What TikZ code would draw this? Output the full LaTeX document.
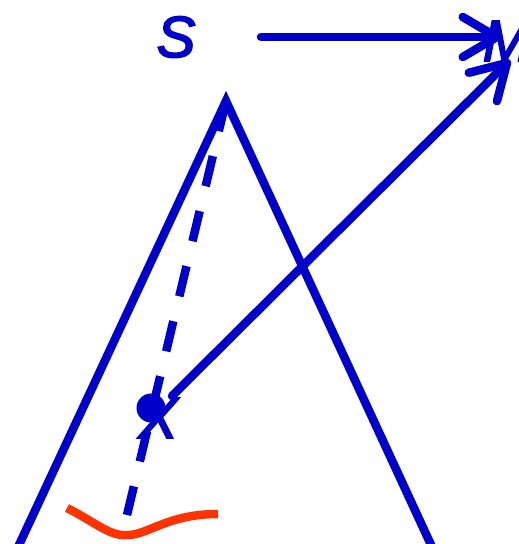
\documentclass[tikz,border=0pt]{standalone}
\usepackage{fontspec}
\newfontface\labface{Liberation Sans Italic}[FakeBold=3]
\usetikzlibrary{arrows.meta}
\definecolor{dblue}{RGB}{0,0,204}
\definecolor{ored}{RGB}{255,51,0}
\begin{document}
\begin{tikzpicture}[x=1pt,y=-1pt,
  bluestroke/.style={draw=dblue,line width=8.5pt},
  arr/.style={bluestroke,line cap=round,-{Straight Barb[length=34pt,width=40pt,round]}},
  lab/.style={text=dblue,font=\labface\fontsize{58}{60}\selectfont,inner sep=0pt,anchor=base}]
\useasboundingbox (0,0) rectangle (519,544);
\clip (0,0) rectangle (519,544);
% labels
\node[lab] (S) at (176,57) {S};
\node[lab] (M) at (507,61) {M};
\node[lab] (X) at (158,438) {X};
% cone
\coordinate (apex) at (226,101);
\coordinate (leftfoot) at (12,560);
\coordinate (rightfoot) at (438,560);
\draw[bluestroke,line join=miter] (leftfoot) -- (apex) -- (rightfoot);
% dashed axis
\coordinate (dend) at (127,515);
\draw[bluestroke,dash pattern=on 31pt off 25.6pt] (apex) -- (dend);
% point
\node[circle,fill=dblue,minimum size=29pt,inner sep=0pt] (dot) at (151,408) {};
% arrows
\coordinate (h0) at (261,37);
\coordinate (h1) at (501,37);
\draw[arr] (h0) -- (h1);
\coordinate (d0) at (172,396);
\coordinate (d1) at (510,60);
\draw[arr] (d0) -- (d1);
% red curve
\coordinate (r0) at (67,508);
\coordinate (r1) at (130,535);
\coordinate (r2) at (218,514);
\draw[draw=ored,line width=8.5pt] (r0) .. controls (100,525) and (110,537) .. (r1) .. controls (150,533) and (170,514) .. (r2);
\end{tikzpicture}
\end{document}
